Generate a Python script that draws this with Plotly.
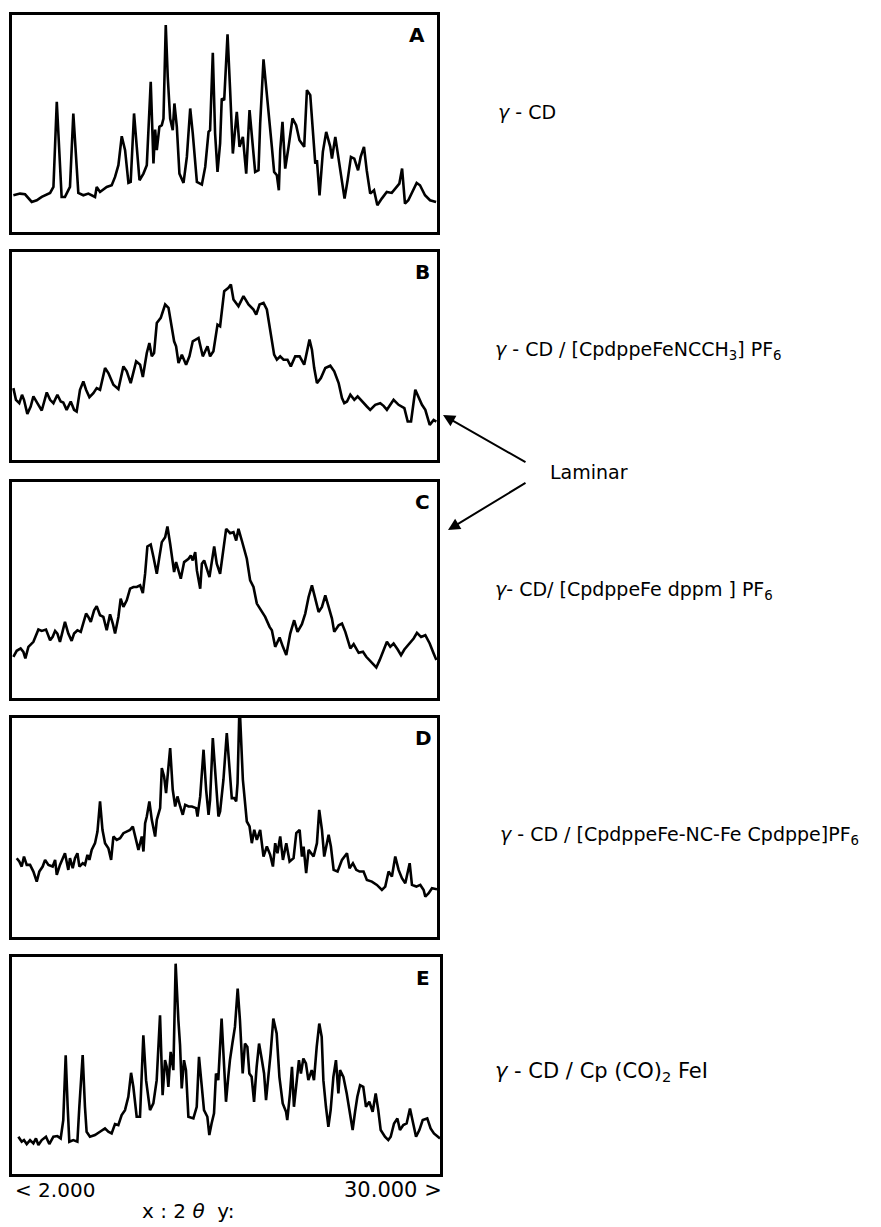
import plotly.graph_objects as go

# ---------------- data (2-theta in degrees, intensity in arbitrary units) ----------------
two_theta_A = [2.09, 2.53, 2.86, 3.30, 3.63, 3.96, 4.51, 4.73, 4.95, 5.12, 5.27, 5.49, 5.82, 6.04, 6.22, 6.37,
               6.70, 7.03, 7.47, 7.58, 7.80, 8.24, 8.57, 8.79, 9.01, 9.23, 9.45, 9.67, 9.82, 10.04, 10.22,
               10.40, 10.66, 10.88, 11.14, 11.32, 11.43, 11.54, 11.71, 11.87, 11.98, 12.13, 12.26, 12.42,
               12.59, 12.70, 12.86, 13.03, 13.30, 13.52, 13.74, 13.91, 14.18, 14.51, 14.73, 14.95, 15.05,
               15.23, 15.38, 15.54, 15.71, 15.82, 15.98, 16.20, 16.37, 16.55, 16.81, 16.99, 17.21, 17.43,
               17.65, 17.87, 18.02, 18.24, 18.35, 18.57, 18.73, 18.90, 19.12, 19.27, 19.45, 19.58, 19.67,
               19.82, 20.00, 20.22, 20.48, 20.72, 20.94, 21.25, 21.43, 21.65, 21.87, 21.98, 22.09, 22.26,
               22.48, 22.70, 22.97, 23.08, 23.30, 23.52, 23.74, 23.91, 24.11, 24.33, 24.55, 24.80, 24.97,
               25.19, 25.37, 25.60, 25.85, 26.07, 26.36, 26.69, 27.02, 27.24, 27.52, 27.70, 27.89, 28.11,
               28.33, 28.66, 28.88, 29.21, 29.54, 29.94]
intensity_A = [11.0, 11.5, 11.3, 9.0, 9.5, 10.5, 11.7, 13.5, 39.0, 23.5, 10.5, 10.5, 13.5, 35.5, 21.5, 11.7,
               11.0, 11.5, 10.5, 13.5, 12.0, 13.5, 14.0, 16.5, 20.0, 28.7, 24.5, 14.7, 15.0, 35.5, 25.5,
               15.5, 17.5, 20.0, 45.0, 20.5, 30.7, 24.5, 31.5, 32.0, 34.0, 62.0, 46.5, 34.0,
               30.5, 38.5, 31.5, 17.5, 14.7, 22.5, 37.0, 29.5, 15.0, 14.2, 19.5, 30.0, 30.5,
               53.7, 29.5, 18.0, 26.5, 40.0, 39.5, 59.2, 42.5, 23.5, 36.0, 25.5, 28.5, 17.5,
               36.5, 26.5, 18.0, 18.5, 32.5, 51.7, 44.5, 37.5, 25.5, 18.0, 17.0, 12.5, 24.5,
               33.0, 19.0, 25.5, 34.0, 32.0, 27.5, 25.5, 42.5, 41.0, 27.5, 20.5, 21.5, 11.0,
               24.0, 30.0, 25.5, 22.0, 28.5, 21.5, 14.5, 10.0, 15.5, 22.5, 22.0, 18.5, 22.5,
               25.5, 18.5, 11.5, 12.5, 8.0, 10.0, 12.0, 11.7, 13.0, 14.5, 19.0, 8.5, 9.5,
               11.5, 14.7, 14.0, 11.0, 9.5, 9.0]

two_theta_B = [2.09, 2.26, 2.48, 2.66, 2.79, 3.01, 3.23, 3.41, 3.67, 3.96, 4.29, 4.51, 4.73, 4.99, 5.21, 5.38,
               5.60, 5.87, 6.09, 6.26, 6.48, 6.70, 6.88, 7.10, 7.36, 7.58, 7.80, 8.13, 8.35, 8.68, 9.01,
               9.34, 9.56, 9.82, 10.18, 10.44, 10.62, 10.88, 11.05, 11.21, 11.36, 11.54, 11.80, 12.09,
               12.31, 12.53, 12.68, 12.81, 12.97, 13.19, 13.47, 13.69, 13.91, 14.29, 14.57, 14.88, 15.05,
               15.27, 15.54, 15.71, 15.98, 16.26, 16.42, 16.59, 16.92, 17.25, 17.58, 17.91, 18.09, 18.31,
               18.57, 18.79, 19.12, 19.27, 19.45, 19.67, 19.89, 20.15, 20.37, 20.66, 20.95, 21.25, 21.60,
               21.76, 21.91, 22.09, 22.35, 22.64, 22.97, 23.23, 23.52, 23.74, 23.89, 24.07, 24.29, 24.55,
               24.77, 25.05, 25.38, 25.60, 25.93, 26.26, 26.48, 26.70, 26.92, 27.14, 27.47, 27.85, 28.07,
               28.29, 28.57, 28.79, 29.01, 29.23, 29.52, 29.78, 29.96]
intensity_B = [21.5, 18.0, 17.0, 19.5, 18.0, 13.8, 16.0, 19.0, 17.0, 14.8, 20.2, 18.0, 17.0, 19.5, 17.5, 17.2,
               15.0, 17.5, 15.0, 14.5, 21.0, 23.5, 21.0, 18.8, 20.0, 21.5, 21.0, 27.5, 26.0, 22.5, 21.2,
               28.0, 26.5, 23.0, 29.5, 28.5, 24.8, 32.0, 35.0, 31.0, 32.0, 41.0, 42.5, 46.5,
               45.5, 39.0, 35.5, 34.0, 29.0, 31.5, 28.5, 31.0, 35.5, 36.5, 31.0, 34.0, 31.0,
               32.5, 40.5, 40.0, 50.5, 51.5, 52.5, 48.0, 46.0, 49.0, 46.5, 45.0, 43.5, 46.5,
               47.0, 45.0, 36.0, 31.5, 30.0, 31.0, 30.0, 30.0, 28.0, 31.0, 31.0, 28.5, 36.0,
               33.0, 27.5, 23.0, 24.5, 27.5, 28.2, 26.5, 23.0, 18.5, 17.0, 17.5, 19.5, 18.0,
               19.0, 17.5, 16.0, 15.0, 16.5, 17.0, 16.2, 15.0, 16.5, 18.0, 16.5, 15.5, 11.5,
               11.5, 21.0, 18.5, 16.5, 15.0, 10.5, 12.0, 11.5]

two_theta_C = [2.09, 2.31, 2.57, 2.75, 2.88, 3.08, 3.41, 3.74, 3.96, 4.24, 4.51, 4.68, 4.84, 4.99, 5.16, 5.34,
               5.49, 5.71, 5.93, 6.09, 6.31, 6.53, 6.70, 6.88, 7.03, 7.19, 7.41, 7.58, 7.80, 8.02, 8.24,
               8.46, 8.64, 8.79, 9.01, 9.16, 9.34, 9.56, 9.78, 10.00, 10.22, 10.44, 10.62, 10.77, 10.92,
               11.14, 11.32, 11.54, 11.71, 11.87, 12.09, 12.24, 12.42, 12.59, 12.68, 12.81, 12.97, 13.12,
               13.34, 13.63, 13.78, 13.91, 14.07, 14.18, 14.40, 14.51, 14.66, 14.84, 15.01, 15.32, 15.49,
               15.71, 15.89, 16.11, 16.37, 16.59, 16.77, 16.92, 17.14, 17.47, 17.69, 17.91, 18.13, 18.40,
               18.68, 18.97, 19.12, 19.34, 19.63, 19.85, 20.07, 20.33, 20.59, 20.81, 21.10, 21.32, 21.54,
               21.76, 21.98, 22.20, 22.42, 22.64, 22.86, 23.08, 23.23, 23.52, 23.74, 23.96, 24.29, 24.51,
               24.84, 25.12, 25.34, 25.56, 25.78, 26.00, 26.22, 26.48, 26.70, 26.92, 27.14, 27.41, 27.63,
               27.85, 28.20, 28.46, 28.68, 28.95, 29.23, 29.52, 29.78, 29.96]
intensity_C = [12.4, 14.2, 14.9, 13.9, 11.9, 15.4, 16.9, 20.6, 20.2, 20.6, 17.4, 18.4, 20.2, 19.4, 16.9, 19.9,
               22.9, 19.4, 17.2, 19.4, 20.4, 19.9, 22.4, 25.4, 24.4, 22.9, 26.4, 27.6, 24.9, 24.4, 20.4,
               25.2, 22.4, 19.4, 24.4, 29.9, 27.4, 29.4, 32.9, 33.4, 33.4, 33.9, 31.6, 37.4, 45.6,
               46.2, 42.4, 37.4, 42.4, 46.9, 48.4, 51.6, 46.4, 41.4, 37.9, 40.9, 38.4, 35.9,
               40.9, 41.9, 42.9, 41.4, 43.9, 38.4, 32.9, 40.4, 41.4, 38.4, 36.4, 45.6, 40.4,
               37.4, 43.4, 50.9, 49.6, 49.9, 47.4, 50.9, 47.4, 41.9, 35.4, 33.4, 28.4, 26.4,
               24.4, 21.4, 20.4, 15.4, 18.2, 15.4, 12.9, 19.4, 23.4, 19.9, 22.2, 25.4, 30.4,
               33.9, 29.9, 25.9, 27.4, 30.9, 27.4, 23.9, 19.9, 21.9, 22.4, 19.9, 14.9, 16.2,
               13.6, 13.9, 12.4, 11.4, 10.2, 9.2, 11.4, 14.4, 16.9, 15.4, 16.4, 14.6, 12.9,
               14.6, 16.4, 17.9, 19.6, 18.4, 18.9, 16.4, 13.4, 11.4]

two_theta_D = [2.31, 2.48, 2.64, 2.79, 2.97, 3.19, 3.41, 3.63, 3.80, 4.02, 4.18, 4.40, 4.68, 4.84, 4.95, 5.16,
               5.49, 5.71, 5.82, 6.00, 6.15, 6.31, 6.44, 6.66, 6.81, 6.97, 7.10, 7.25, 7.47, 7.63, 7.80,
               7.96, 8.13, 8.35, 8.53, 8.68, 8.90, 9.12, 9.34, 9.56, 9.78, 9.96, 10.11, 10.33, 10.55,
               10.66, 10.77, 10.88, 11.05, 11.21, 11.43, 11.54, 11.76, 11.87, 12.02, 12.15, 12.42, 12.59,
               12.75, 12.90, 13.08, 13.25, 13.41, 13.63, 13.85, 14.13, 14.22, 14.40, 14.62, 14.79, 14.95,
               15.05, 15.23, 15.38, 15.60, 15.71, 15.93, 16.15, 16.33, 16.48, 16.64, 16.77, 16.86, 16.99,
               17.21, 17.36, 17.47, 17.65, 17.80, 17.96, 18.13, 18.35, 18.57, 18.79, 19.01, 19.19, 19.34,
               19.49, 19.67, 19.85, 20.07, 20.29, 20.55, 20.73, 20.95, 21.10, 21.21, 21.38, 21.54, 21.87,
               22.09, 22.24, 22.42, 22.57, 22.86, 23.01, 23.19, 23.45, 23.74, 24.07, 24.24, 24.46, 24.68,
               24.90, 25.16, 25.38, 25.71, 26.04, 26.37, 26.59, 26.81, 27.03, 27.25, 27.47, 27.69, 27.91,
               28.20, 28.35, 28.64, 28.90, 29.12, 29.23, 29.45, 29.67, 30.00]
intensity_D = [23.6, 22.6, 21.1, 24.1, 21.6, 21.6, 19.6, 16.6, 19.6, 21.1, 23.1, 21.6, 21.1, 23.1, 18.6, 21.6,
               25.1, 20.1, 23.6, 20.6, 23.6, 25.1, 21.1, 22.1, 21.6, 24.6, 23.1, 26.1, 28.1, 31.6, 40.6,
               32.1, 28.1, 26.6, 23.1, 30.1, 29.1, 29.6, 31.1, 31.6, 32.1, 33.1, 30.1, 26.1, 30.1,
               25.6, 34.1, 36.1, 40.6, 35.1, 30.1, 35.1, 38.6, 50.6, 48.1, 43.1, 56.6, 44.1,
               39.1, 42.1, 39.1, 36.6, 39.6, 39.1, 39.1, 38.6, 36.1, 42.1, 56.1, 44.1, 36.6,
               41.1, 59.6, 49.1, 36.1, 37.6, 47.1, 61.1, 49.1, 41.6, 41.6, 40.6, 46.1, 70.0,
               47.1, 39.1, 34.6, 33.1, 28.1, 32.1, 29.1, 32.1, 24.1, 27.1, 24.6, 21.1, 28.1,
               25.1, 30.1, 23.1, 28.1, 22.6, 23.6, 31.1, 32.1, 24.1, 27.1, 19.1, 26.1, 24.1,
               28.1, 38.1, 32.1, 24.1, 30.6, 27.1, 20.1, 19.6, 23.1, 25.1, 20.6, 22.1, 20.1,
               19.6, 19.6, 17.1, 16.6, 15.6, 14.1, 15.1, 19.6, 18.1, 24.1, 20.1, 17.6, 16.1,
               22.1, 15.6, 15.1, 15.6, 14.1, 12.1, 13.1, 14.6, 14.3]

two_theta_E = [2.42, 2.64, 2.79, 2.97, 3.19, 3.41, 3.58, 3.74, 3.96, 4.24, 4.46, 4.73, 4.99, 5.21, 5.38, 5.54,
               5.67, 5.78, 6.04, 6.31, 6.44, 6.66, 6.81, 6.92, 7.14, 7.47, 7.80, 8.13, 8.35, 8.57, 8.79,
               9.01, 9.23, 9.45, 9.67, 9.85, 10.00, 10.22, 10.44, 10.66, 10.84, 10.99, 11.10, 11.32, 11.54,
               11.76, 11.93, 12.09, 12.20, 12.31, 12.46, 12.64, 12.79, 12.97, 13.08, 13.19, 13.34, 13.47,
               13.63, 13.96, 14.18, 14.33, 14.51, 14.66, 14.88, 15.01, 15.16, 15.32, 15.45, 15.60, 15.82,
               15.98, 16.11, 16.26, 16.37, 16.53, 16.70, 16.88, 17.03, 17.21, 17.36, 17.52, 17.65, 17.80,
               17.96, 18.13, 18.29, 18.46, 18.62, 18.75, 18.90, 19.05, 19.23, 19.45, 19.63, 19.85, 20.07,
               20.15, 20.33, 20.46, 20.59, 20.77, 20.92, 21.05, 21.21, 21.38, 21.54, 21.76, 21.91, 22.09,
               22.26, 22.42, 22.53, 22.70, 22.86, 23.01, 23.19, 23.36, 23.52, 23.63, 23.85, 24.07, 24.24,
               24.46, 24.62, 24.77, 24.95, 25.16, 25.34, 25.56, 25.78, 25.98, 26.15, 26.31, 26.59, 26.81,
               26.97, 27.19, 27.41, 27.58, 27.80, 28.02, 28.24, 28.42, 28.64, 28.86, 29.08, 29.38, 29.60,
               29.82, 30.04, 30.22]
intensity_E = [11.2, 9.7, 10.2, 9.0, 10.2, 9.2, 10.7, 8.7, 10.2, 11.2, 9.0, 11.2, 11.4, 10.7, 16.2, 35.7,
               20.2, 9.7, 10.2, 9.7, 20.2, 35.7, 20.2, 12.7, 11.2, 11.7, 12.7, 13.7, 12.7, 12.2, 15.0,
               14.7, 17.7, 19.2, 23.2, 30.4, 26.2, 17.2, 17.2, 41.7, 28.2, 23.2, 19.2, 21.2, 28.2,
               47.7, 23.7, 34.2, 32.2, 26.2, 36.7, 31.2, 63.2, 46.2, 38.7, 25.7, 34.2, 31.2,
               17.2, 16.7, 20.2, 35.2, 26.2, 19.2, 17.2, 11.7, 15.2, 18.2, 30.2, 28.2, 46.7,
               30.2, 21.7, 29.2, 34.2, 39.2, 44.2, 55.7, 46.2, 30.2, 39.2, 38.2, 30.2, 29.2,
               21.7, 32.2, 39.2, 34.7, 30.2, 22.2, 28.2, 36.2, 46.7, 42.2, 29.2, 21.2, 18.7,
               16.2, 24.2, 32.2, 20.2, 29.2, 34.2, 30.2, 34.7, 33.2, 28.2, 31.2, 28.2, 38.2,
               45.2, 41.2, 28.2, 20.2, 14.2, 19.2, 29.2, 34.2, 24.2, 31.2, 29.2, 24.2, 19.2,
               13.2, 18.7, 23.2, 26.7, 26.2, 20.2, 21.7, 18.7, 24.2, 19.2, 13.2, 11.2, 10.2,
               11.2, 15.2, 16.7, 13.2, 14.7, 15.2, 19.7, 16.2, 11.2, 13.2, 16.2, 16.7, 13.7,
               12.2, 11.2, 10.7]

panel_letters = ["A", "B", "C", "D", "E"]
sample_labels = [
    "<i>γ</i> - CD",
    "<i>γ</i> - CD / [CpdppeFeNCCH<sub>3</sub>] PF<sub>6</sub>",
    "<i>γ</i>- CD/ [CpdppeFe dppm ] PF<sub>6</sub>",
    "<i>γ</i> - CD / [CpdppeFe-NC-Fe Cpdppe]PF<sub>6</sub>",
    "<i>γ</i> - CD / Cp (CO)<sub>2</sub> FeI",
]
x_start_label = "< 2.000"
x_end_label = "30.000 >"
axis_caption = "x : 2 <i>θ</i>  y:"
arrow_label = "Laminar"

series = [(two_theta_A, intensity_A), (two_theta_B, intensity_B), (two_theta_C, intensity_C),
          (two_theta_D, intensity_D), (two_theta_E, intensity_E)]

# ---------------- layout geometry (pixels) ----------------
W, H = 881, 1227
boxes = [  # left, right, top, bottom in pixels
    (12, 437, 15, 232),
    (12, 437, 252, 460),
    (12, 437, 482, 698),
    (12, 437, 718, 937),
    (12, 440, 957, 1174),
]
x_ranges = [[2, 30], [2, 30], [2, 30], [2, 30], [2, 30.22]]
y_ranges = [[0, 65], [0, 62.2], [0, 65], [0, 65.6], [0, 65.2]]
label_y = [112, 350, 590, 835, 1072]
label_x = [496, 493, 493, 498, 493]
label_size = [19, 19, 19, 19, 21]
letter_pos = [(417, 35), (422, 272), (422, 502), (423, 738), (423, 978)]

fig = go.Figure()
layout = dict(width=W, height=H, margin=dict(l=0, r=0, t=0, b=0),
              paper_bgcolor="white", plot_bgcolor="white", showlegend=False)

annotations = []
for i, ((x, y), (l, r, t, b)) in enumerate(zip(series, boxes)):
    n = "" if i == 0 else str(i + 1)
    fig.add_trace(go.Scatter(x=x, y=y, mode="lines", xaxis="x" + n, yaxis="y" + n,
                             line=dict(color="black", width=2.6), hoverinfo="skip"))
    axstyle = dict(showline=True, mirror=True, linecolor="black", linewidth=3,
                   showgrid=False, zeroline=False, showticklabels=False, ticks="", fixedrange=True)
    layout["xaxis" + n] = dict(domain=[l / W, r / W], range=x_ranges[i],
                               anchor="y" + n, **axstyle)
    layout["yaxis" + n] = dict(domain=[1 - b / H, 1 - t / H], range=y_ranges[i],
                               anchor="x" + n, **axstyle)
    lx, ly = letter_pos[i]
    annotations.append(dict(x=lx / W, y=1 - ly / H, xref="paper", yref="paper", showarrow=False,
                            text="<b>" + panel_letters[i] + "</b>", xanchor="center", yanchor="middle",
                            font=dict(family="DejaVu Sans", size=20, color="black")))
    annotations.append(dict(x=label_x[i] / W, y=1 - label_y[i] / H, xref="paper", yref="paper",
                            showarrow=False, text=sample_labels[i], xanchor="left", yanchor="middle",
                            font=dict(family="DejaVu Sans", size=label_size[i], color="black")))

annotations.append(dict(x=548 / W, y=1 - 472 / H, xref="paper", yref="paper", showarrow=False,
                        text=arrow_label, xanchor="left", yanchor="middle",
                        font=dict(family="DejaVu Sans", size=19, color="black")))
# arrows pointing from the "Laminar" label to panels B and C
annotations.append(dict(x=443 / W, y=1 - 415 / H, xref="paper", yref="paper", showarrow=True,
                        text="", ax=84, ay=48, arrowhead=2, arrowsize=1.2, arrowwidth=2, arrowcolor="black"))
annotations.append(dict(x=448 / W, y=1 - 530 / H, xref="paper", yref="paper", showarrow=True,
                        text="", ax=79, ay=-48, arrowhead=2, arrowsize=1.2, arrowwidth=2, arrowcolor="black"))
# bottom x-range labels
annotations.append(dict(x=13 / W, y=1 - 1190 / H, xref="paper", yref="paper", showarrow=False,
                        text=x_start_label, xanchor="left", yanchor="middle",
                        font=dict(family="DejaVu Sans", size=20, color="black")))
annotations.append(dict(x=444 / W, y=1 - 1190 / H, xref="paper", yref="paper", showarrow=False,
                        text=x_end_label, xanchor="right", yanchor="middle",
                        font=dict(family="DejaVu Sans", size=21, color="black")))
annotations.append(dict(x=188 / W, y=1 - 1211 / H, xref="paper", yref="paper", showarrow=False,
                        text=axis_caption, xanchor="center", yanchor="middle",
                        font=dict(family="DejaVu Sans", size=20, color="black")))

layout["annotations"] = annotations
fig.update_layout(**layout)
fig.write_html("out.html")
